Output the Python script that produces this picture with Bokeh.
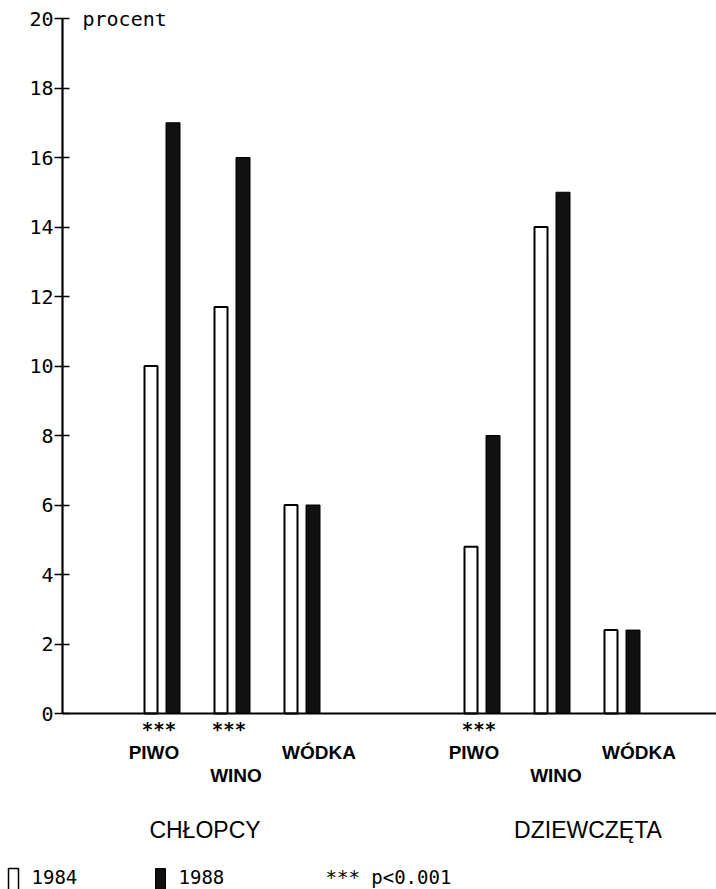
from bokeh.plotting import figure
from bokeh.models import Range1d, LinearAxis, FixedTicker, Span
from bokeh.layouts import column
from bokeh.core.properties import value
from bokeh.embed import file_html
from bokeh.resources import INLINE

# ---------------- data ----------------
categories = ["PIWO", "WINO", "WÓDKA"]
groups = ["CHŁOPCY", "DZIEWCZĘTA"]
boys_1984 = [10.0, 11.7, 6.0]
boys_1988 = [17.0, 16.0, 6.0]
girls_1984 = [4.8, 14.0, 2.4]
girls_1988 = [8.0, 15.0, 2.4]
boys_signif = [True, True, False]
girls_signif = [True, False, False]
y_ticks = [0, 2, 4, 6, 8, 10, 12, 14, 16, 18, 20]
y_label = "procent"
legend_labels = ["1984", "1988", "*** p<0.001"]
signif_mark = "***"

# ---------------- layout / style ----------------
PX_PER_UNIT = 34.75          # vertical scale (pixels per percent)
ZERO_Y = 713                 # canvas y of value 0
FRAME_TOP = 13
MAIN_H = 860
LEG_H = 29
WIDTH = 716
LEFT = 62
group_origin = [99.5, 419.5]  # x of first pair centre in each group
pair_spacing = 70
bar_offset = 11
cat_label_dx = [-8, 4, 17]
cat_label_row = [752, 775, 752]
group_label_dx = [-27, 36]
MONO = "DejaVu Sans Mono"
SANS = "Liberation Sans"


def py(canvas_y):
    return (ZERO_Y - canvas_y) / PX_PER_UNIT


p = figure(width=WIDTH, height=MAIN_H, output_backend="svg", toolbar_location=None,
           x_range=Range1d(0, WIDTH - LEFT),
           y_range=Range1d(py(MAIN_H), py(FRAME_TOP)),
           x_axis_location=None, y_axis_location=None,
           min_border_left=LEFT, min_border_right=0, min_border_top=FRAME_TOP, min_border_bottom=0)
p.outline_line_color = None
p.grid.visible = False
p.background_fill_color = "white"
p.frame_align = False

yaxis = LinearAxis(ticker=FixedTicker(ticks=y_ticks), bounds=(0, 20))
yaxis.axis_line_width = 2.2
yaxis.axis_line_color = "black"
yaxis.major_tick_in = 7
yaxis.major_tick_out = 8
yaxis.major_tick_line_width = 1.5
yaxis.minor_tick_line_color = None
yaxis.major_label_standoff = 1
yaxis.major_label_text_font = MONO
yaxis.major_label_text_font_size = "20px"
yaxis.major_label_text_color = "black"
p.add_layout(yaxis, "left")

p.add_layout(Span(location=0, dimension="width", line_color="black", line_width=2))

all_1984 = [boys_1984, girls_1984]
all_1988 = [boys_1988, girls_1988]
all_sig = [boys_signif, girls_signif]

x84, y84, x88, y88 = [], [], [], []
lab_x, lab_y, lab_t = [], [], []
sx = []
for g, origin in enumerate(group_origin):
    for i, cat in enumerate(categories):
        c = origin + i * pair_spacing
        x84.append(c - bar_offset)
        y84.append(all_1984[g][i])
        x88.append(c + bar_offset)
        y88.append(all_1988[g][i])
        lab_x.append(c + cat_label_dx[i])
        lab_y.append(py(cat_label_row[i]))
        lab_t.append(cat)
        if all_sig[g][i]:
            sx.append(c - 3)

p.vbar(x=x84, top=y84, bottom=0, width=13, fill_color="white", line_color="black", line_width=2)
p.vbar(x=x88, top=y88, bottom=0, width=14, fill_color="#111111", line_color="black", line_width=1)

p.text(x=lab_x, y=lab_y, text=lab_t, text_font=value(SANS), text_font_size="19px",
       text_font_style="bold", text_align="center", text_baseline="middle", text_color="black")

p.text(x=sx, y=[py(728)] * len(sx), text=[signif_mark] * len(sx), text_font=value(MONO),
       text_font_size="19px", text_font_style="bold", text_align="center",
       text_baseline="alphabetic", text_color="black")

gx = [group_origin[g] + pair_spacing + group_label_dx[g] for g in range(len(groups))]
p.text(x=gx, y=[py(829)] * len(groups), text=groups, text_font=value(SANS), text_font_size="23px",
       text_align="center", text_baseline="middle", text_color="black")

p.text(x=[20], y=[20], text=[y_label], text_font=value(MONO), text_font_size="20px",
       text_align="left", text_baseline="middle", text_color="black")

# ---------------- legend row ----------------
q = figure(width=WIDTH, height=LEG_H, output_backend="svg", toolbar_location=None,
           x_range=Range1d(0, WIDTH), y_range=Range1d(0, LEG_H),
           x_axis_location=None, y_axis_location=None, min_border=0)
q.outline_line_color = None
q.grid.visible = False
q.frame_align = False

item_step = 147
lx = [8 + i * item_step for i in range(len(legend_labels))]
q.quad(left=[lx[0]], right=[lx[0] + 10], top=[21], bottom=[-5],
       fill_color="white", line_color="black", line_width=1.5)
q.quad(left=[lx[1]], right=[lx[1] + 10], top=[21], bottom=[-5],
       fill_color="#111111", line_color="black", line_width=1)
q.text(x=[x + 23 for x in lx], y=[13] * len(lx), text=legend_labels, text_font=value(MONO),
       text_font_size="19px", text_align="left", text_baseline="middle", text_color="black")

layout = column(p, q, spacing=0)
open("out.html", "w").write(file_html(layout, INLINE))
